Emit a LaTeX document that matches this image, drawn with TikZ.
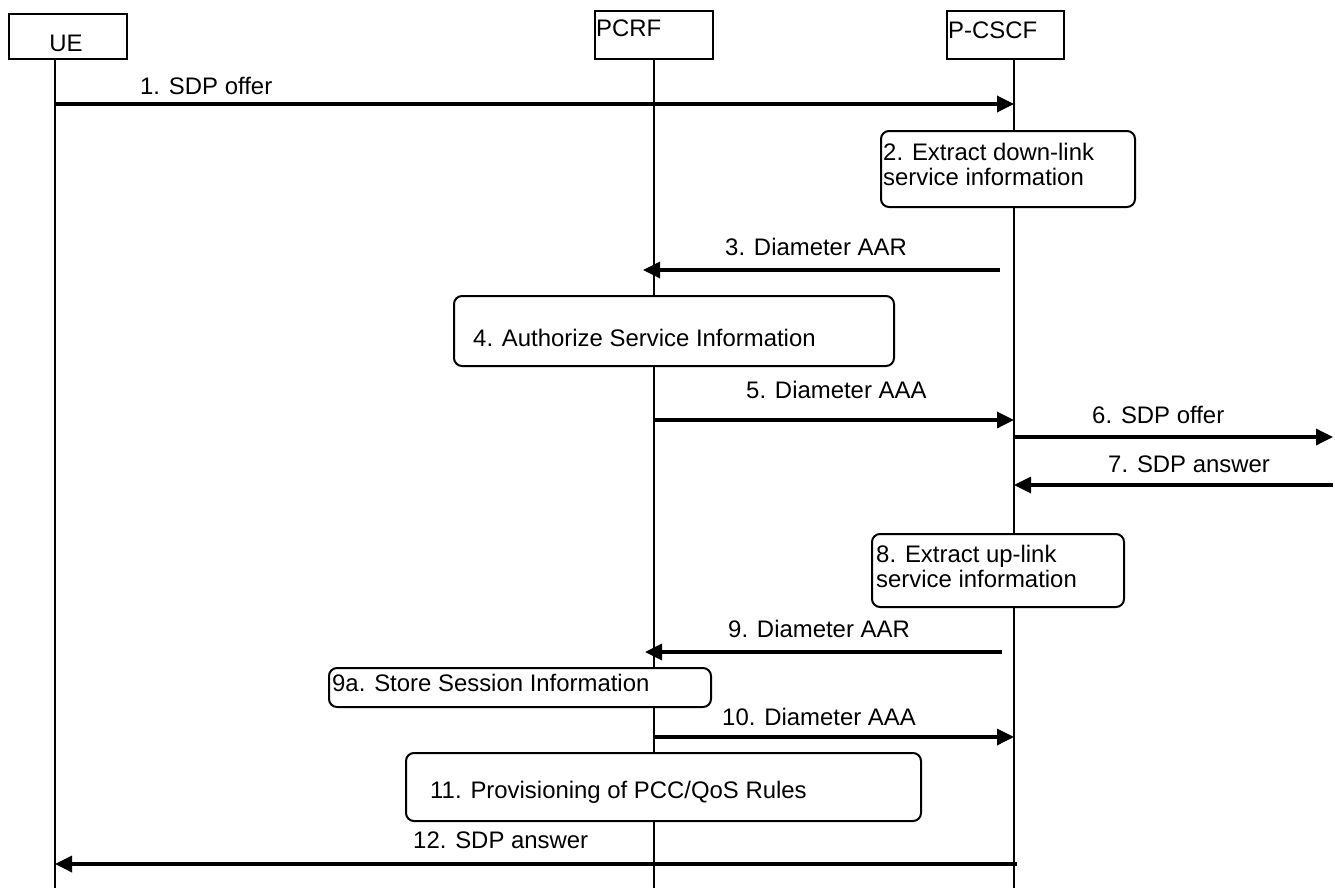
\documentclass[tikz,border=0pt]{standalone}
\usepackage{fontspec}
\setmainfont{Liberation Sans}
\usetikzlibrary{arrows.meta}

\begin{document}
\begin{tikzpicture}[x=1bp,y=-1bp,font=\fontsize{24}{25.5}\selectfont,
 head/.style={draw,line width=2bp,anchor=north west,inner sep=0pt},
 act/.style={draw,line width=2bp,rounded corners=8bp,fill=white,anchor=north west,inner sep=0pt},
 txt/.style={anchor=base west,align=left,inner sep=0pt},
 life/.style={line width=1.8bp},
 msg/.style={-{Triangle[length=17bp,width=16bp]},line width=3.4bp}]
\path[use as bounding box] (0,0) rectangle (1335,888);
\node[head,minimum width=118bp,minimum height=45bp] (ue) at (8,13) {};
\node[head,minimum width=118bp,minimum height=48bp] (pcrf) at (594,10) {};
\node[head,minimum width=117bp,minimum height=48bp] (pcscf) at (946,10) {};
\node[anchor=base,inner sep=0pt] (ueT) at (66,51) {UE};
\node[txt] (pcrfT) at (596,36) {PCRF};
\node[txt] (pcscfT) at (948,38) {P-CSCF};
\coordinate (ueL) at (55,58);
\coordinate (pcL) at (654,58);
\coordinate (csL) at (1014,58);
\coordinate (far) at (1333,58);
\coordinate (ueB) at (55,888);
\coordinate (pcB) at (654,888);
\coordinate (csB) at (1014,888);
\draw[life] (ueL) -- (ueB);
\draw[life] (pcL) -- (pcB);
\draw[life] (csL) -- (csB);
\coordinate (y1) at (0,104);
\coordinate (y3) at (0,270);
\coordinate (y5) at (0,420);
\coordinate (y6) at (0,437);
\coordinate (y7) at (0,485);
\coordinate (y9) at (0,652);
\coordinate (y10) at (0,737);
\coordinate (y12) at (0,864);
\draw[msg] (ueL |- y1) -- (csL |- y1);
\node[txt] (l1) at (140,94.5) {1. SDP offer};
\node[act,minimum width=254bp,minimum height=76bp] (b2) at (880,130) {};
\node[txt,anchor=west] (t2) at (883,164.5) {2. Extract down-link\\service information};
\draw[msg,shorten <=14bp,shorten >=-11bp] (csL |- y3) -- (pcL |- y3);
\node[txt] (l3) at (725,255) {3. Diameter AAR};
\node[act,minimum width=440bp,minimum height=70bp] (b4) at (453,295) {};
\node[txt] (t4) at (473,346) {4. Authorize Service Information};
\draw[msg] (pcL |- y5) -- (csL |- y5);
\node[txt] (l5) at (746,398.5) {5. Diameter AAA};
\draw[msg] (csL |- y6) -- (far |- y6);
\node[txt] (l6) at (1092,423.5) {6. SDP offer};
\draw[msg] (far |- y7) -- (csL |- y7);
\node[txt] (l7) at (1108,472.5) {7. SDP answer};
\node[act,minimum width=252bp,minimum height=73bp] (b8) at (871,533) {};
\node[txt,anchor=west] (t8) at (876,566.5) {8. Extract up-link\\service information};
\draw[msg,shorten <=12bp,shorten >=-9bp] (csL |- y9) -- (pcL |- y9);
\node[txt] (l9) at (728,637) {9. Diameter AAR};
\node[act,minimum width=382bp,minimum height=39bp] (b9a) at (328,667) {};
\node[txt] (t9a) at (332,691.5) {9a. Store Session Information};
\draw[msg] (pcL |- y10) -- (csL |- y10);
\node[txt] (l10) at (722,725.5) {10. Diameter AAA};
\node[act,minimum width=515bp,minimum height=68bp] (b11) at (405,752) {};
\node[txt] (t11) at (430,798.5) {11. Provisioning of PCC/QoS Rules};
\draw[msg,shorten <=-3bp] (csL |- y12) -- (ueL |- y12);
\node[txt] (l12) at (413,848.5) {12. SDP answer};
\end{tikzpicture}
\end{document}
